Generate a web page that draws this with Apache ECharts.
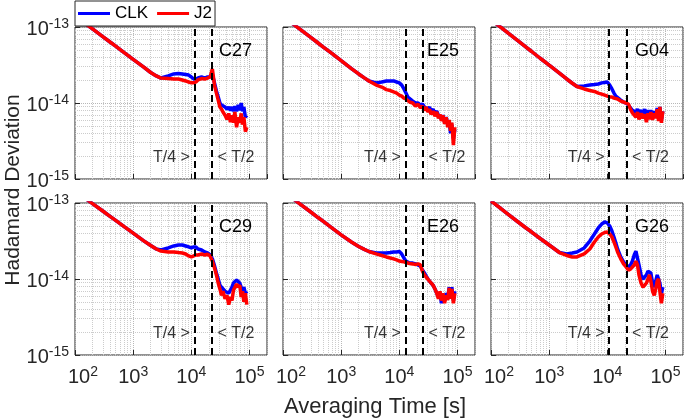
<!DOCTYPE html>
<html><head><meta charset="utf-8">
<script src="https://cdn.jsdelivr.net/npm/echarts@6/dist/echarts.min.js"></script>
<style>html,body{margin:0;padding:0;background:#fff}#c{width:685px;height:419px}</style>
</head><body><div id="c"></div>
<script>
// Averaging time [s]
const tau = [100,150,200,300,400,500,700,1000,1500,2000,2500,3000,4000,5000,6000,7000,8000,9000,10000,11000,12000,13000,14000,15000,17000,19000,21000,23000,25000,27000,29000,31000,33000,35000,38000,41000,44000,47000,50000,53000,56000,60000,64000,68000,72000,76000,80000,85000,90000];
// Hadamard deviation values, in units of 1e-15
const c27Clk = [141,111,94.5,74.9,63.5,55.9,46.0,37.5,29.8,25.2,22.7,21.3,22.7,24.1,24.4,24.1,23.7,23.3,22.0,20.7,20.7,21.3,22.0,22.0,21.3,22.0,22.0,24.0,18.4,14.4,12.0,10.0,9.4,9.1,8.85,8.3,8.85,8.0,8.85,7.8,9.1,7.8,9.4,8.0,10.0,7.8,8.85,6.5,6.9];
const c27J2  = [141,111,94.5,74.9,63.5,55.9,46.0,37.5,29.8,25.2,22.7,21.3,21.0,20.7,20.7,20.1,19.5,18.9,18.4,18.4,18.9,20.1,20.7,21.0,20.7,21.3,22.0,28.0,17.2,13.5,10.9,8.85,8.3,7.6,6.9,6.1,7.3,5.6,6.9,5.5,7.6,4.8,6.5,5.5,7.3,5.2,6.5,4.2,4.8];
const e25Clk = [138,109,92.3,72.8,61.6,54.0,44.5,36.0,28.4,24.1,21.4,19.5,18.4,18.9,19.5,19.5,19.5,18.9,18.4,17.2,15.3,13.5,12.0,11.3,10.6,10.0,10.0,9.4,9.7,8.85,9.1,8.3,8.85,7.8,8.3,7.3,7.8,6.9,7.3,6.1,6.9,5.6,6.5,5.2,5.8,4.0,5.2,3.4,4.5];
const e25J2  = [138,109,92.3,72.8,61.6,54.0,44.5,36.0,28.4,24.1,21.4,19.5,17.2,16.2,15.0,14.6,14.0,13.5,12.7,12.3,11.6,11.3,10.9,10.3,10.0,9.1,9.7,8.6,9.1,8.0,8.85,7.6,8.3,7.1,7.8,6.7,7.6,6.3,7.1,5.8,6.9,5.3,6.5,4.8,6.0,4.3,5.5,2.8,4.8];
const g04Clk = [124.7,97.8,82.3,64.6,54.4,47.6,38.8,31.4,24.7,20.7,18.2,16.5,16.8,17.2,17.5,17.8,18.4,18.6,18.9,17.2,15.3,13.5,12.3,11.6,10.9,10.3,10.0,9.4,8.6,8.0,8.3,7.6,8.3,7.3,8.0,7.3,8.3,6.9,8.0,7.1,8.0,6.7,7.8,6.9,8.6,6.5,8.85,6.0,7.8];
const g04J2  = [124.7,97.8,82.3,64.6,54.4,47.6,38.8,31.4,24.7,20.7,18.2,16.5,15.3,14.6,14.2,13.5,13.1,12.7,12.3,12.0,12.0,11.6,11.3,11.3,10.6,10.3,10.0,9.7,8.3,7.4,7.8,6.5,7.6,6.1,7.3,6.3,7.1,5.6,7.3,6.1,7.6,6.0,7.3,6.3,8.3,5.8,8.85,5.5,7.8];
const c29Clk = [144.7,115.3,98.2,78.4,66.8,59.0,48.9,40.1,32.0,27.6,24.8,24.1,25.6,27.2,28.0,28.0,27.2,26.4,25.6,26.4,26.4,24.8,24.1,24.1,22.7,22.0,20.7,18.4,15.0,12.0,10.0,8.3,7.8,7.4,6.9,6.5,6.5,6.9,7.8,8.85,9.4,9.7,10.0,8.85,7.8,6.9,7.8,6.5,6.9];
const c29J2  = [144.7,115.3,98.2,78.4,66.8,59.0,48.9,40.1,32.0,27.6,24.8,23.3,22.7,22.7,22.3,22.0,21.3,20.1,19.5,20.1,20.7,20.7,21.3,21.3,20.7,21.3,20.1,17.2,14.0,11.3,8.85,7.4,6.1,6.9,5.5,6.1,4.6,5.8,5.2,7.1,6.9,8.6,7.8,8.3,5.8,6.9,5.0,6.5,4.6];
const e26Clk = [143,113.5,95.8,76.1,64.4,56.8,46.8,38.1,30.7,26.8,24.5,23.0,22.0,22.0,22.0,22.3,22.7,22.7,23.0,21.3,18.9,17.2,16.2,16.2,16.2,15.8,15.3,14.8,13.1,12.0,10.9,10.0,9.7,8.85,8.3,7.4,6.5,5.8,6.5,4.8,6.1,5.2,6.5,5.8,7.8,5.8,7.8,5.2,6.9];
const e26J2  = [143,113.5,95.8,76.1,64.4,56.8,46.8,38.1,30.7,26.8,24.5,23.0,21.4,20.4,19.5,18.9,18.4,17.8,17.2,17.0,16.8,16.5,16.2,16.0,15.8,15.5,15.8,15.3,12.7,11.3,10.6,10.0,9.4,8.85,8.3,7.4,6.5,5.5,6.9,5.2,6.5,4.8,6.1,5.3,7.6,5.5,7.4,4.8,6.5];
const g26Clk = [106.6,83.7,70.5,55.4,46.9,41.5,34.1,28.0,22.3,21.4,22.0,22.7,25.6,31.6,39.1,46.9,52.9,56.2,54.6,49.8,42.8,35.7,29.8,24.8,19.5,16.8,15.3,14.4,15.3,17.2,20.7,23.3,22.0,15.3,11.3,10.0,10.6,11.3,12.7,12.7,12.0,8.85,7.8,9.4,11.3,11.3,8.85,6.5,7.8];
const g26J2  = [106.6,83.7,70.5,55.4,46.9,41.5,34.1,28.0,22.3,20.4,19.5,19.5,21.4,24.8,30.7,35.7,39.1,40.9,41.5,39.1,35.7,30.7,26.4,22.7,18.4,15.8,14.4,13.1,13.5,13.5,15.3,17.2,15.3,11.3,8.85,7.8,8.3,8.85,10.0,11.3,9.4,6.9,6.1,7.4,9.4,10.0,6.9,4.8,6.5];

const panelNames = ['C27','E25','G04','C29','E26','G26'];
const clkSets = [c27Clk, e25Clk, g04Clk, c29Clk, e26Clk, g26Clk];
const j2Sets  = [c27J2, e25J2, g04J2, c29J2, e26J2, g26J2];
const tQuarter = [11300, 12700, 10770, 11300, 12700, 10770];
const tHalf    = [22700, 25500, 21300, 22700, 25500, 21300];
const UNIT_EXP = -15;   // y values are in units of 1e-15
const LABEL_LEVEL = 1.9; // height of the T/4, T/2 annotations (1e-15 units)

const FONT = '"Liberation Sans", Arial, Helvetica, sans-serif';
const lefts = [75, 283, 491], tops = [27, 203], W = 192, H = 152;
const AX = '#262626';

const xMinor = [], yMinor = [];
[100, 1000, 10000].forEach(d => { for (let k = 2; k <= 9; k++) xMinor.push(d * k); });
[1, 10].forEach(d => { for (let k = 2; k <= 9; k++) yMinor.push(d * k); });

function isPow10(v) {
  const e = Math.round(Math.log10(v));
  return Math.abs(v - Math.pow(10, e)) < 1e-6 * v;
}
const rich = {
  b:  { fontSize: 20, fontFamily: FONT, color: AX, lineHeight: 20, padding: [5, 0, 0, 0] },
  bf: { fontSize: 20, fontFamily: FONT, color: AX, lineHeight: 20, padding: [5, 0, 0, 16] },
  s:  { fontSize: 14, fontFamily: FONT, color: AX, lineHeight: 14, verticalAlign: 'top' }
};

const grids = [], xAxes = [], yAxes = [], series = [], graphics = [];
for (let i = 0; i < 6; i++) {
  const r = Math.floor(i / 3), c = i % 3;
  grids.push({ left: lefts[c], top: tops[r], width: W, height: H, show: true,
    borderColor: AX, borderWidth: 1, backgroundColor: '#fff' });
  xAxes.push({ type: 'log', logBase: 10, gridIndex: i, min: 100, max: 200000,
    axisLine: { show: false },
    axisTick: { show: true, inside: true, length: 5, lineStyle: { color: AX } },
    axisLabel: { show: r === 1, margin: 10, showMaxLabel: false, rich: rich,
      formatter: v => {
        if (!isPow10(v)) return '';
        const e = Math.round(Math.log10(v));
        return '{' + (e === 2 ? 'bf' : 'b') + '|10}{s|' + e + '}';
      } },
    splitLine: { show: true, lineStyle: { color: '#b8b8b8', type: 'dotted', width: 1 } }
  });
  yAxes.push({ type: 'log', logBase: 10, gridIndex: i, min: 1, max: 100,
    axisLine: { show: false },
    axisTick: { show: true, inside: true, length: 5, lineStyle: { color: AX } },
    axisLabel: { show: c === 0, margin: 6, rich: rich,
      formatter: v => {
        if (!isPow10(v)) return '';
        const e = Math.round(Math.log10(v)) + UNIT_EXP;
        return '{b|10}{s|' + e + '}';
      } },
    splitLine: { show: true, lineStyle: { color: '#b8b8b8', type: 'dotted', width: 1 } }
  });
  // minor grid
  series.push({ type: 'line', name: 'minor', xAxisIndex: i, yAxisIndex: i, data: [], silent: true,
    markLine: { silent: true, z: 1, symbol: ['none', 'none'], label: { show: false },
      lineStyle: { color: '#cccccc', type: 'dotted', width: 1 },
      animation: false,
      data: xMinor.map(v => ({ xAxis: v })).concat(yMinor.map(v => ({ yAxis: v }))) } });
  series.push({ type: 'line', name: 'CLK', xAxisIndex: i, yAxisIndex: i, z: 3,
    data: tau.map((t, k) => [t, clkSets[i][k]]), showSymbol: false, symbol: 'none',
    lineStyle: { color: '#0000ff', width: 3.5 }, itemStyle: { color: '#0000ff' }, clip: true });
  series.push({ type: 'line', name: 'J2', xAxisIndex: i, yAxisIndex: i, z: 4,
    data: tau.map((t, k) => [t, j2Sets[i][k]]), showSymbol: false, symbol: 'none',
    lineStyle: { color: '#ff0000', width: 3.5 }, itemStyle: { color: '#ff0000' }, clip: true });
  // T/4 and T/2 dashed lines
  series.push({ type: 'line', name: 'tlines', xAxisIndex: i, yAxisIndex: i, data: [], silent: true,
    markLine: { silent: true, z: 6, symbol: ['none', 'none'], label: { show: false },
      lineStyle: { color: '#000', type: [7, 4], width: 2 }, animation: false,
      data: [{ xAxis: tQuarter[i] }, { xAxis: tHalf[i] }] } });
  series.push({ type: 'scatter', name: 'tlabels', xAxisIndex: i, yAxisIndex: i, silent: true, z: 7,
    symbolSize: 1, itemStyle: { color: 'rgba(0,0,0,0)' },
    data: [
      { value: [tQuarter[i], LABEL_LEVEL], label: { show: true, position: 'left', distance: 4, formatter: 'T/4 >' } },
      { value: [tHalf[i], LABEL_LEVEL], label: { show: true, position: 'right', distance: 5, formatter: '< T/2' } }
    ],
    label: { fontSize: 16, fontFamily: FONT, color: '#000' } });
  graphics.push({ type: 'text', left: lefts[c] + 144, top: tops[r] + 15, z: 10,
    style: { text: panelNames[i], font: '18px ' + FONT, fill: '#000' } });
}
graphics.push({ type: 'text', x: 375, y: 407, z: 10,
  style: { text: 'Averaging Time [s]', font: '22px ' + FONT, fill: AX,
    align: 'center', verticalAlign: 'middle', textAlign: 'center', textVerticalAlign: 'middle' } });
graphics.push({ type: 'text', x: 13, y: 190, rotation: Math.PI / 2, z: 10,
  style: { text: 'Hadamard Deviation', font: '21px ' + FONT, fill: AX,
    align: 'center', verticalAlign: 'middle', textAlign: 'center', textVerticalAlign: 'middle' } });

const chart = echarts.init(document.getElementById('c'), null, { renderer: 'canvas' });
chart.setOption({
  animation: false,
  backgroundColor: '#fff',
  textStyle: { fontFamily: FONT },
  legend: { data: ['CLK', 'J2'], left: 75, top: 1, z: 20, backgroundColor: '#fff',
    borderColor: AX, borderWidth: 1, padding: [4, 3, 4, 3], itemGap: 9,
    itemWidth: 32, itemHeight: 3, icon: 'rect', selectedMode: false,
    textStyle: { fontSize: 17, fontFamily: FONT, color: '#000' } },
  grid: grids, xAxis: xAxes, yAxis: yAxes, series: series, graphic: graphics
});
</script></body></html>
